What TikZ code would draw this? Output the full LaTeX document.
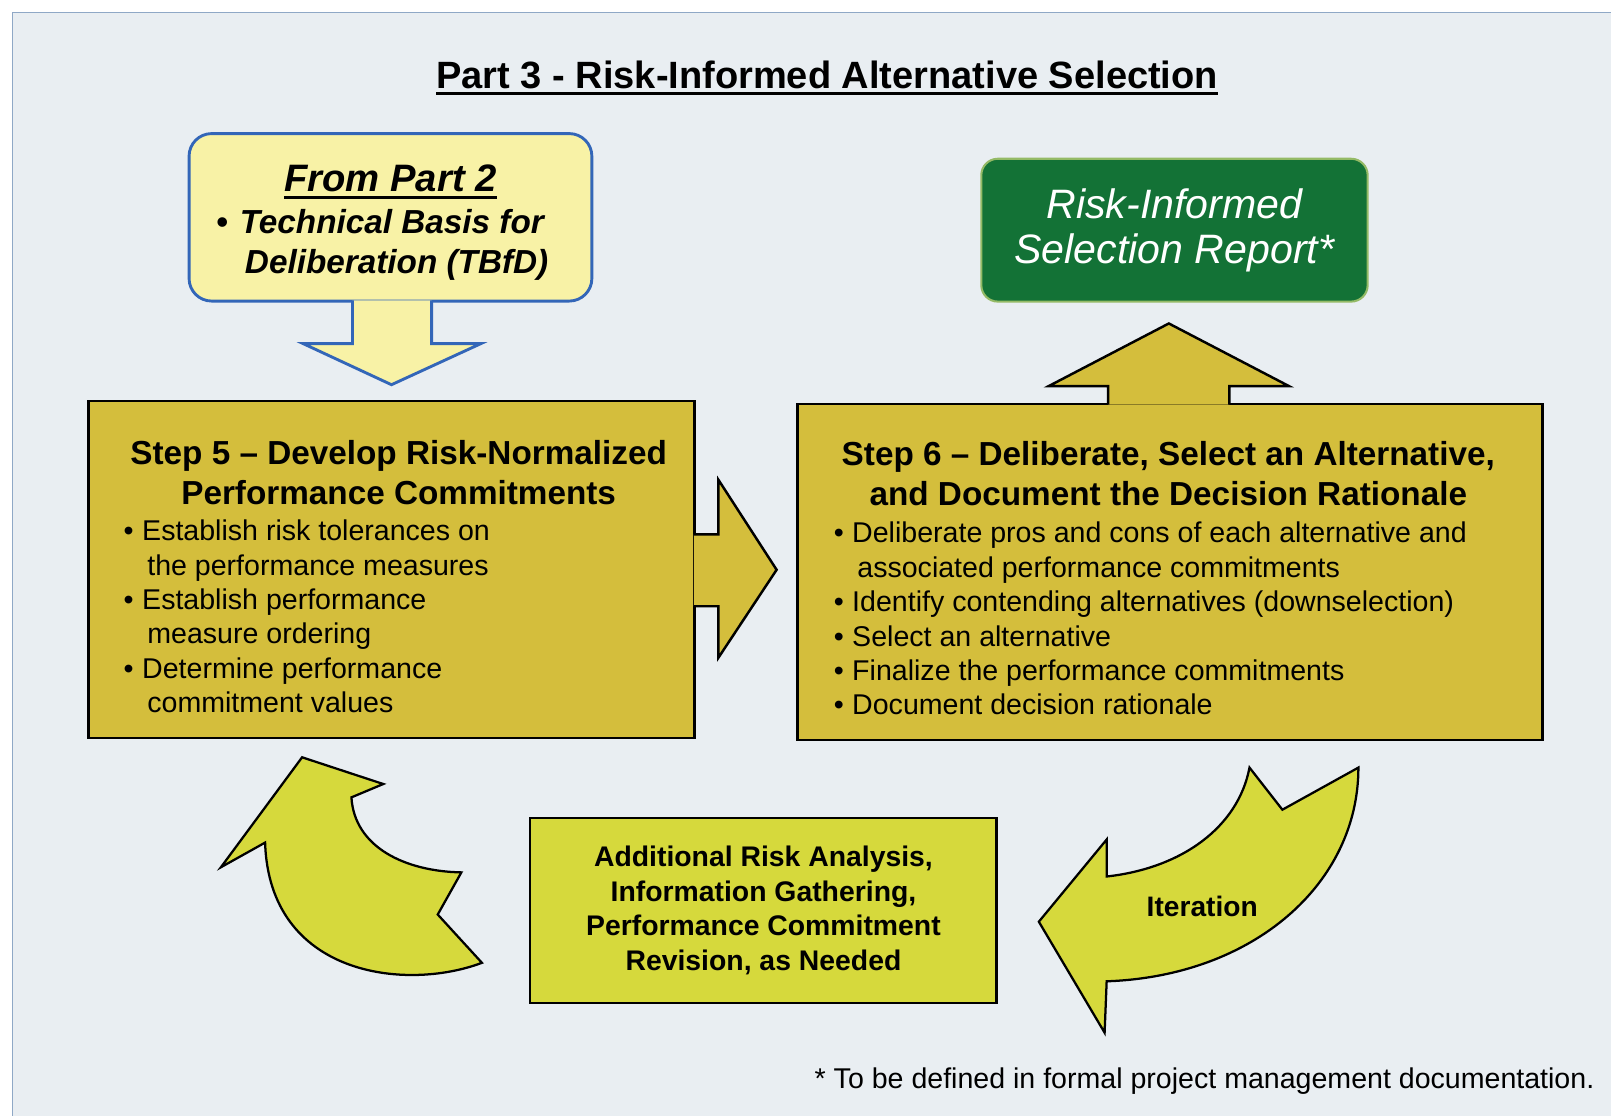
\documentclass[tikz,border=0pt]{standalone}
\usepackage{fontspec}
\setmainfont{Liberation Sans}
\usetikzlibrary{calc}
\definecolor{panelbg}{HTML}{E9EEF2}
\definecolor{panelline}{HTML}{8FA8C6}
\definecolor{stepgold}{HTML}{D4BE3C}
\definecolor{loopgreen}{HTML}{D6D93C}
\definecolor{paleyellow}{HTML}{F8F2A6}
\definecolor{partblue}{HTML}{3366B8}
\definecolor{reportgreen}{HTML}{137236}
\definecolor{reportedge}{HTML}{94BA66}

\newcommand{\thickul}[1]{\setbox0\hbox{#1}\rlap{\rule[-3.2pt]{\wd0}{1.3pt}}\box0}
\newcommand{\bitem}[2][9pt]{\makebox[#1][l]{\textbullet}#2}

\begin{document}
\begin{tikzpicture}[x=0.5pt, y=-0.5pt,
    partbox/.style={draw=partblue, line width=1.4pt, fill=paleyellow, rounded corners=11pt, inner sep=0pt},
    partarrow/.style={draw=partblue, line width=1.4pt, fill=paleyellow, line join=miter},
    stepbox/.style={draw=black, line width=1.2pt, fill=stepgold, inner sep=0pt},
    steparrow/.style={draw=black, line width=1.2pt, fill=stepgold, line join=miter},
    reportbox/.style={draw=reportedge, line width=1pt, fill=reportgreen, rounded corners=8pt, text=white, align=center, font=\fontsize{20}{22}\selectfont\itshape},
    loopbox/.style={draw=black, line width=1.2pt, fill=loopgreen, align=center, font=\fontsize{13.8}{16.75}\selectfont\bfseries},
    looparrow/.style={draw=black, line width=1.1pt, fill=loopgreen, line join=miter},
    steptitle/.style={font=\fontsize{16.2}{19.5}\selectfont\bfseries, align=center, inner sep=0pt},
    steplist/.style={font=\fontsize{13.9}{16.75}\selectfont, align=left, inner sep=0pt, anchor=west},
]

% panel
\fill[white] (0,0) rectangle (1568,1086);
\fill[panelbg] (12,12) rectangle (1568,1086);
\draw[panelline, line width=0.8pt] (12,1086) -- (12,12) -- (1568,12);
\useasboundingbox (0,0) rectangle (1568,1086);

\node[font=\fontsize{18.5}{22}\selectfont\bfseries, inner sep=0pt] (title) at (805,76) {\thickul{Part 3 - Risk-Informed Alternative Selection}};

% boxes
\node[partbox, minimum width=196pt, minimum height=81.5pt] (part2) at (380,211.5) {};
\node[stepbox, minimum width=295pt, minimum height=164pt] (step5) at (381,554) {};
\node[stepbox, minimum width=362.5pt, minimum height=163.5pt] (step6) at (1138.5,556.5) {};
\node[reportbox, minimum width=188pt, minimum height=69.5pt] (report) at (1143,224) {Risk-Informed\\Selection Report*};
\node[loopbox, minimum width=227pt, minimum height=90pt] (extra) at (743,886) {Additional Risk Analysis,\\Information Gathering,\\Performance Commitment\\Revision, as Needed};

% Arrows
\filldraw[partarrow] ($(part2.south)+(-37,-2)$) -- ($(part2.south)+(-37,40)$) -- ($(part2.south)+(-85,40)$) -- ($(part2.south)+(1,80)$) -- ($(part2.south)+(88,40)$) -- ($(part2.south)+(40,40)$) -- ($(part2.south)+(40,-2)$);
\filldraw[steparrow] ($(step5.east)+(-2,-34)$) -- ($(step5.east)+(22,-34)$) -- ($(step5.east)+(22,-87)$) -- ($(step6.west)+(-19,-2)$) -- ($(step5.east)+(22,86)$) -- ($(step5.east)+(22,36)$) -- ($(step5.east)+(-2,36)$);
\filldraw[steparrow] ($(step6.north)+(-60,2)$) -- ($(step6.north)+(-60,-16)$) -- ($(step6.north)+(-118,-16)$) -- ($(step6.north)+(-1,-77)$) -- ($(step6.north)+(116,-16)$) -- ($(step6.north)+(58,-16)$) -- ($(step6.north)+(58,2)$);

% curved arrows
\filldraw[looparrow] (294,737) -- (373,763) -- (342,776) .. controls (345,825) and (395,848) .. (449,849) -- (426,890) -- (469,937) .. controls (395,965) and (262,950) .. (258,820) -- (215,844) -- cycle;
\filldraw[looparrow] (1011,897) -- (1077,817) -- (1077,853) .. controls (1150,845) and (1205,805) .. (1216,747) -- (1248,788) -- (1322,747) .. controls (1322,860) and (1220,950) .. (1077,955) -- (1075,1005) -- cycle;
\node[font=\fontsize{13.7}{16}\selectfont\bfseries, inner sep=0pt] (iterlabel) at (1170,882) {Iteration};

% texts
\node[font=\fontsize{18.6}{22}\selectfont\bfseries\itshape, inner sep=0pt] (parthead) at (380,177) {\thickul{From Part 2}};
\node[font=\fontsize{16.2}{19.5}\selectfont\bfseries\itshape, align=left, inner sep=0pt, anchor=west] (partlist) at (210,238) {\bitem[11.5pt]{Technical Basis for}\\\hspace*{14pt}Deliberation (TBfD)};

\node[steptitle] (step5title) at (388,459.5) {Step 5 – Develop Risk-Normalized\\Performance Commitments};
\node[steplist] (step5list) at (120,600) {\bitem{Establish risk tolerances on}\\\hspace*{11.5pt}the performance measures\\\bitem{Establish performance}\\\hspace*{11.5pt}measure ordering\\\bitem{Determine performance}\\\hspace*{11.5pt}commitment values};

\node[steptitle] (step6title) at (1137,460.5) {Step 6 – Deliberate, Select an Alternative,\\and Document the Decision Rationale};
\node[steplist] (step6list) at (811,602) {\bitem{Deliberate pros and cons of each alternative and}\\\hspace*{11.5pt}associated performance commitments\\\bitem{Identify contending alternatives (downselection)}\\\bitem{Select an alternative}\\\bitem{Finalize the performance commitments}\\\bitem{Document decision rationale}};

\node[font=\fontsize{13.9}{16}\selectfont, anchor=east, inner sep=0pt] (footnote) at (1552,1052) {* To be defined in formal project management documentation.};

\end{tikzpicture}
\end{document}
